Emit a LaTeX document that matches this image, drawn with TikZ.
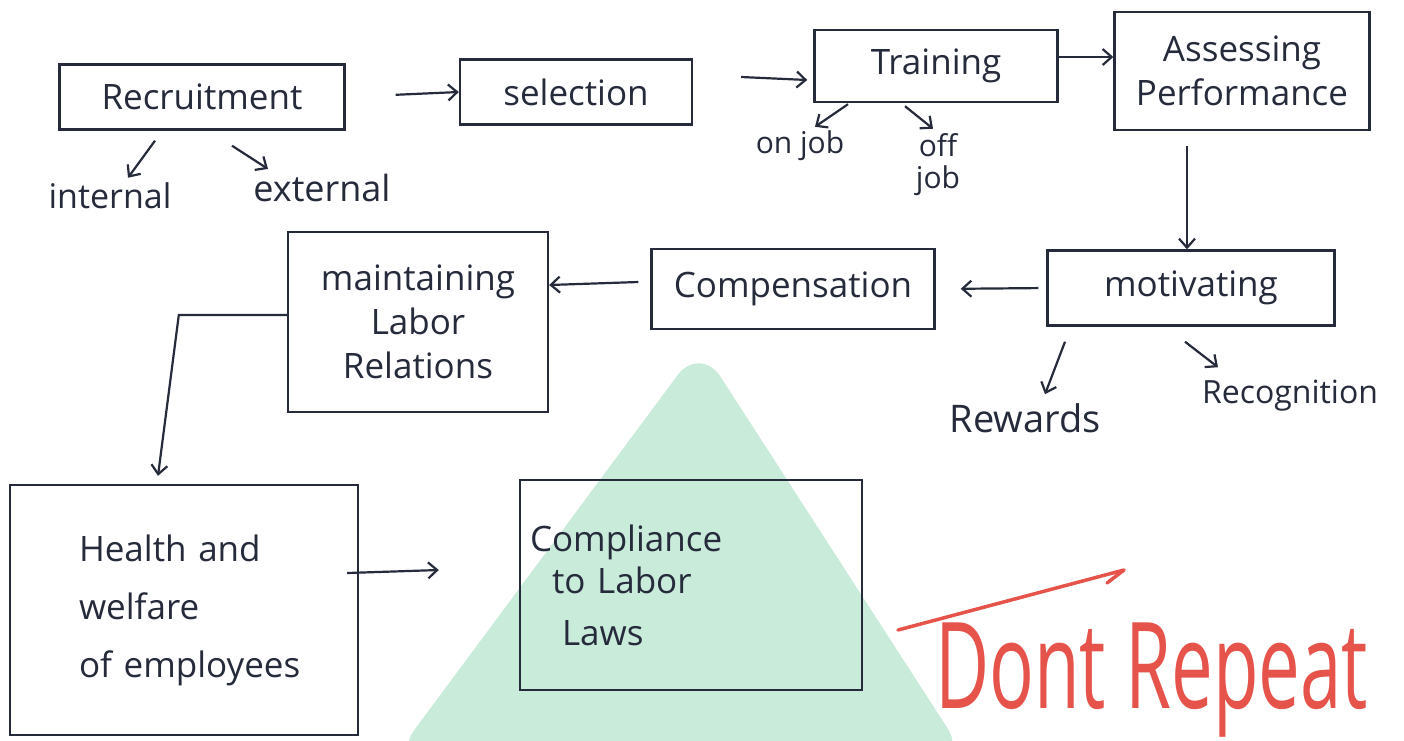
\documentclass[tikz,border=0pt]{standalone}
\usepackage{fontspec}
\setmainfont{Open Sans}
\usetikzlibrary{arrows.meta}
\definecolor{ink}{HTML}{262B3B}
\definecolor{redink}{HTML}{E5534B}
\definecolor{mint}{HTML}{C9EBDA}
\tikzset{
  box/.style={draw=ink, line width=2.4pt, text=ink, inner sep=4pt, align=center,
    font=\fontsize{35}{44}\selectfont},
  arr/.style={draw=ink, line width=2.2pt, -{Straight Barb[length=9pt,width=16pt,line width=2.2pt]}},
  note/.style={text=ink, inner sep=1pt, font=\fontsize{34}{38}\selectfont},
  smallnote/.style={text=ink, inner sep=1pt, font=\fontsize{30}{32}\selectfont},
}
\begin{document}
\begin{tikzpicture}[x=1pt,y=-1pt]
\useasboundingbox (0,0) rectangle (1404,740);
\clip (0,0) rectangle (1404,740);
\fill[white] (0,0) rectangle (1404,740);

% background triangle
\fill[mint, rounded corners=38pt] (392,760) -- (700,345) -- (968,760) -- cycle;

% process boxes
\node[box, minimum width=285pt, minimum height=65pt] (rec) at (202,97) {Recruitment};
\node[box, minimum width=232pt, minimum height=65pt] (sel) at (576,92) {selection};
\node[box, minimum width=243pt, minimum height=72pt] (trn) at (936,66) {Training};
\node[box, minimum width=255pt, minimum height=118pt] (ass) at (1242,71) {Assessing\\Performance};
\node[box, minimum width=287pt, minimum height=75pt] (mot) at (1191,288) {motivating};
\node[box, minimum width=283pt, minimum height=80pt] (cmp) at (793,289) {Compensation};
\node[box, minimum width=260pt, minimum height=180pt] (mlr) at (418,322) {maintaining\\Labor\\Relations};
\node[box, minimum width=348pt, minimum height=250pt, font=\fontsize{35}{58}\selectfont,
  align=left, text width=310pt] (hlth) at (184,610) {\hspace*{50pt}Health and\\\hspace*{50pt}welfare\\\hspace*{50pt}of employees\\[-10pt]};
\node[box, minimum width=342pt, minimum height=210pt, align=left, text width=322pt,
  font=\fontsize{35}{42}\selectfont] (cmpl) at (691,585)
  {Compliance\\\hspace*{22pt}to Labor\\[10pt]\hspace*{32pt}Laws\\[50pt]};

% sub-labels
\node[note] (int) at (110,196) {internal};
\node[note, font=\fontsize{36}{40}\selectfont] (ext) at (322,188) {external};
\node[smallnote] (onj) at (800,146) {on job};
\node[smallnote, align=center] (offj) at (938,165) {off\\job};
\node[note, font=\fontsize{38}{42}\selectfont] (rew) at (1025,418) {Rewards};
\node[note, font=\fontsize{32}{36}\selectfont] (rcg) at (1290,396) {Recognition};

% main flow
\draw[arr, shorten <=50pt] (rec.east) -- (sel.west);
\draw[arr] ([shift={(48,-15)}]sel.east) -- ([shift={(-6,14)}]trn.west);
\draw[arr] ([yshift=9pt]trn.east) -- ([yshift=14pt]ass.west);
\draw[arr] ([shift={(-55,15)}]ass.south) -- ([xshift=-4pt]mot.north);
\draw[arr, shorten <=8pt, shorten >=25pt] (mot.west) -- (cmp.east);
\draw[arr] ([shift={(-12,-7)}]cmp.west) -- ([yshift=37pt]mlr.east);
\draw[arr] ([yshift=7pt]mlr.west) -- ++(-108,0) -- ([shift={(-26,-8)}]hlth.north);
\draw[arr] ([shift={(-12,-37)}]hlth.east) -- ([shift={(-80,-15)}]cmpl.west);

% branches
\draw[arr] ([shift={(-47,10)}]rec.south) -- ([shift={(18,-4)}]int.north);
\draw[arr] ([shift={(30,15)}]rec.south) -- ([shift={(-54,-4)}]ext.north);
\draw[arr] ([shift={(-88,1)}]trn.south) -- ([shift={(15,-3)}]onj.north);
\draw[arr] ([shift={(-31,3)}]trn.south) -- ([shift={(-5,-4)}]offj.north);
\draw[arr] ([shift={(-126,15)}]mot.south) -- ([shift={(20,-8)}]rew.north);
\draw[arr] ([shift={(-6,15)}]mot.south) -- ([shift={(-72,-12)}]rcg.north);

% red remark
\node[text=redink, inner sep=0pt, anchor=base west, xscale=0.62,
  font=\fontsize{120}{130}\selectfont] (rem) at (935,708) {Dont Repeat};
\coordinate (remtip) at (1124,570);
\draw[redink, line width=3.5pt, line cap=round, line join=round]
  ([shift={(-37,-78)}]rem.base west) -- (remtip) -- ++(-17,13);
\end{tikzpicture}
\end{document}
